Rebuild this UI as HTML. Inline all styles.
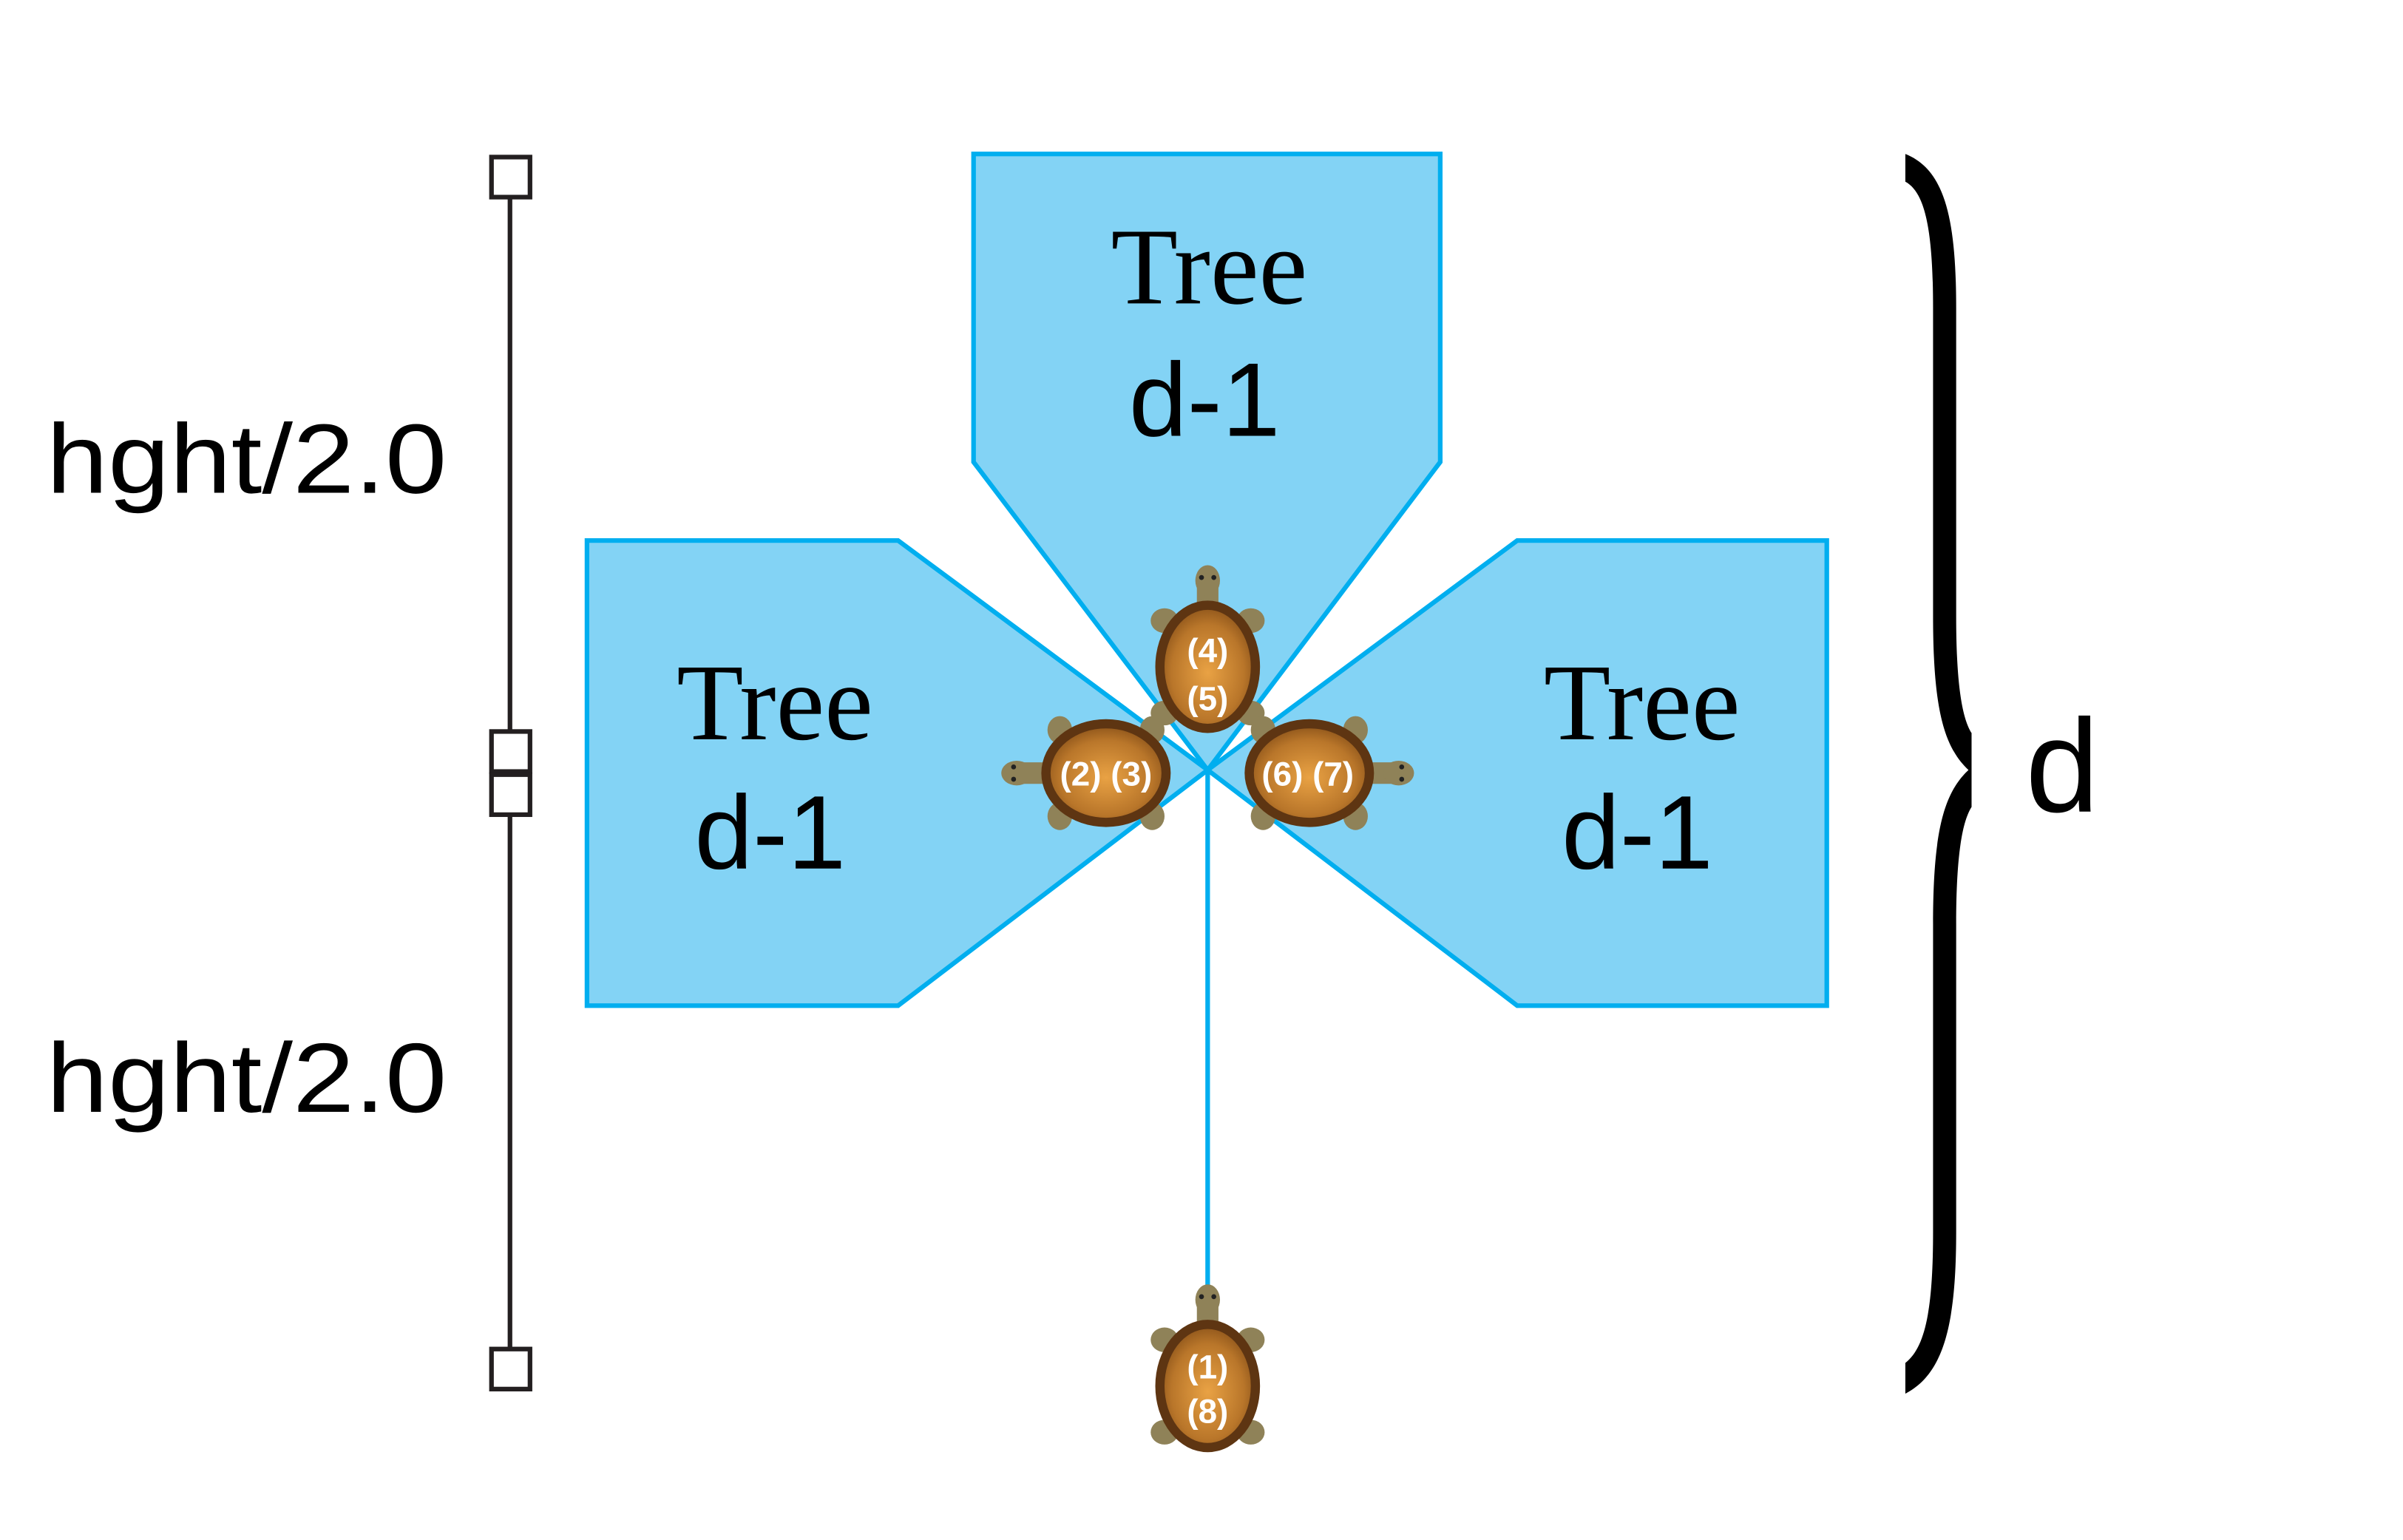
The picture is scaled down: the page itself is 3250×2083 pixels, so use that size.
<!DOCTYPE html>
<html><head><meta charset="utf-8"><style>
html,body{margin:0;padding:0;background:#fff;}
svg{display:block;}
</style></head><body>
<svg width="3250" height="2083" viewBox="0 0 1560 1000" xmlns="http://www.w3.org/2000/svg">
<defs>
<radialGradient id="sh" cx="50%" cy="55%" r="60%">
<stop offset="0" stop-color="#e9a244"/><stop offset="0.7" stop-color="#b9762a"/><stop offset="1" stop-color="#8a5219"/>
</radialGradient>
<g id="turtleV">
<ellipse cx="-28" cy="-30" rx="9" ry="8" fill="#8f8258"/>
<ellipse cx="28" cy="-30" rx="9" ry="8" fill="#8f8258"/>
<ellipse cx="-28" cy="30" rx="9" ry="8" fill="#8f8258"/>
<ellipse cx="28" cy="30" rx="9" ry="8" fill="#8f8258"/>
<rect x="-7" y="-58" width="14" height="30" rx="6" fill="#8f8258"/>
<ellipse cx="0" cy="-56" rx="8" ry="10" fill="#8f8258"/>
<circle cx="-4" cy="-58" r="1.6" fill="#222"/><circle cx="4" cy="-58" r="1.6" fill="#222"/>
<ellipse cx="0" cy="0" rx="34" ry="43" fill="#5e3512"/>
<ellipse cx="0" cy="0" rx="28" ry="37" fill="url(#sh)"/>
</g>
<g id="turtleH">
<ellipse cx="-30" cy="-28" rx="8" ry="9" fill="#8f8258"/>
<ellipse cx="30" cy="-28" rx="8" ry="9" fill="#8f8258"/>
<ellipse cx="-30" cy="28" rx="8" ry="9" fill="#8f8258"/>
<ellipse cx="30" cy="28" rx="8" ry="9" fill="#8f8258"/>
<rect x="-66" y="-7" width="30" height="14" rx="6" fill="#8f8258"/>
<ellipse cx="-58" cy="0" rx="10" ry="8" fill="#8f8258"/>
<circle cx="-60" cy="-4" r="1.6" fill="#222"/><circle cx="-60" cy="4" r="1.6" fill="#222"/>
<ellipse cx="0" cy="0" rx="42" ry="35" fill="#5e3512"/>
<ellipse cx="0" cy="0" rx="36" ry="29" fill="url(#sh)"/>
</g>
</defs>
<g fill="#83d3f5" stroke="#00aeef" stroke-width="3" stroke-linejoin="miter">
<polygon points="632,100 935,100 935,300 784,500 632,300"/>
<polygon points="381,351 583,351 784,500 583,653 381,653"/>
<polygon points="1186,351 985,351 784,500 985,653 1186,653"/>
</g>
<line x1="784" y1="500" x2="784" y2="840" stroke="#00aeef" stroke-width="3"/>
<g font-family="Liberation Serif, serif" font-size="71" text-anchor="middle" fill="#000">
<text x="785" y="197">Tree</text>
<text x="503" y="480">Tree</text>
<text x="1066" y="480">Tree</text>
</g>
<g font-family="Liberation Sans, sans-serif" font-size="68" text-anchor="middle" fill="#000">
<text x="782" y="283">d-1</text>
<text x="500" y="564">d-1</text>
<text x="1063" y="564">d-1</text>
</g>
<g font-family="Liberation Sans, sans-serif" font-size="64" fill="#000">
<text x="30" y="320" textLength="260" lengthAdjust="spacingAndGlyphs">hght/2.0</text>
<text x="30" y="722" textLength="260" lengthAdjust="spacingAndGlyphs">hght/2.0</text>
<text x="1315" y="527" font-size="86">d</text>
</g>
<g stroke="#231f20" stroke-width="3" fill="#fff">
<line x1="331" y1="115" x2="331" y2="888"/>
<rect x="319" y="102" width="25" height="26"/>
<rect x="319" y="475" width="25" height="26"/>
<rect x="319" y="503" width="25" height="26"/>
<rect x="319" y="876" width="25" height="26"/>
</g>
<path fill="#000" d="M1237,100 C1262,110 1270,140 1270,200 L1270,400 C1270,450 1275,468 1280,476 L1280,524 C1275,532 1270,550 1270,600 L1270,800 C1270,860 1262,892 1237,905 L1237,885 C1250,875 1255,850 1255,800 L1255,600 C1255,540 1262,515 1278,500 C1262,485 1255,460 1255,400 L1255,200 C1255,150 1250,125 1237,118 Z"/>
<use href="#turtleV" transform="translate(784,433)"/>
<use href="#turtleH" transform="translate(718,502)"/>
<use href="#turtleH" transform="translate(850,502) scale(-1,1)"/>
<use href="#turtleV" transform="translate(784,900)"/>
<g font-family="Liberation Sans, sans-serif" font-weight="bold" font-size="22" fill="#fff" text-anchor="middle">
<text x="784" y="430">(4)</text>
<text x="784" y="461">(5)</text>
<text x="718" y="510">(2) (3)</text>
<text x="849" y="510">(6) (7)</text>
<text x="784" y="895">(1)</text>
<text x="784" y="924">(8)</text>
</g>
</svg>
</body></html>
